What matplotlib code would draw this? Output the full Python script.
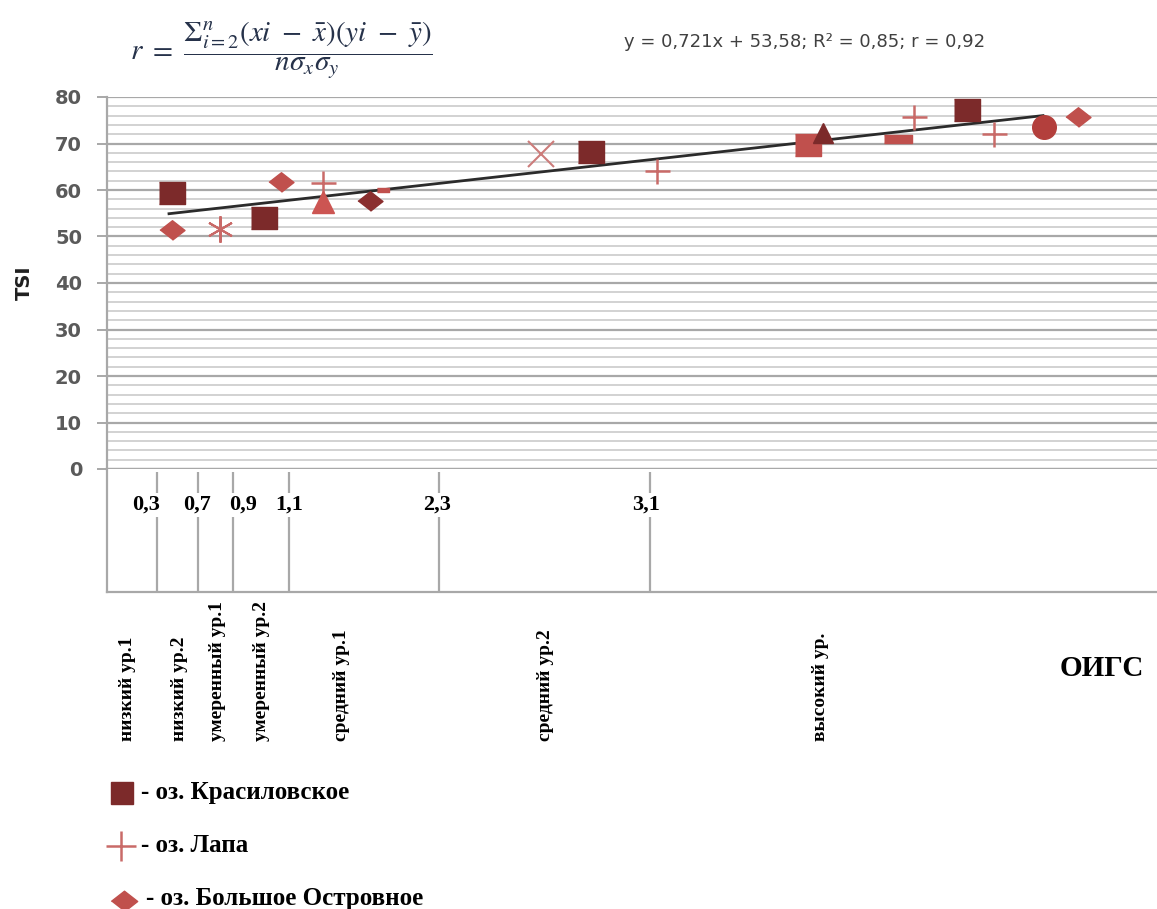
import numpy as np
import matplotlib
matplotlib.use("Agg")
import matplotlib.pyplot as plt
import matplotlib.transforms as mtransforms

# -------------------------------
# Data (x = position along the ОИГС scale of the chart, y = TSI)
# -------------------------------
kras_x = [6.5, 15.7, 48.4, 86.0]
kras_y = [59.4, 53.9, 68.2, 77.2]

lapa_x = [21.6, 55.0, 80.7, 88.7]
lapa_y = [61.6, 64.1, 75.7, 72.1]

ostr_x = [6.5, 17.4, 97.1]
ostr_y = [51.5, 61.8, 75.7]

red_sq_x = [70.1]
red_sq_y = [69.7]
dark_dia_x = [26.3]
dark_dia_y = [57.7]
red_tri_x = [21.6]
red_tri_y = [57.5]
dark_tri_x = [71.6]
dark_tri_y = [72.3]
star_x = [11.3]
star_y = [51.7]
cross_x = [43.4]
cross_y = [67.8]
circ_x = [93.7]
circ_y = [73.6]
flat_x = [79.1]
flat_y = [71.0]
small_x = [27.6]
small_y = [60.0]

trend_x = [6.2, 93.6]
trend_y = [54.9, 76.0]

# class boundaries of ОИГС
bound_x = [5.0, 9.1, 12.6, 18.2, 33.2, 54.3]
bound_lab = ["0,3", "0,7", "0,9", "1,1", "2,3", "3,1"]
bound_lab_x = [3.9, 9.0, 13.6, 18.2, 33.0, 53.9]

level_x = [2.1, 7.3, 11.1, 15.5, 23.5, 43.9, 71.3]
level_lab = ["низкий ур.1", "низкий ур.2", "умеренный ур.1", "умеренный ур.2",
             "средний ур.1", "средний ур.2", "высокий ур."]

legend_lab = ["- оз. Красиловское", "- оз. Лапа", "- оз. Большое Островное"]

# -------------------------------
# Styles
# -------------------------------
DARK = "#7c2a2a"
RED = "#c0504d"
LIGHT = "#c96a68"
GRID = "#a8a8a8"
SERIF = "Liberation Serif"

sq = [(-1, -0.8), (1, -0.8), (1, 0.8), (-1, 0.8)]
dia = [(-1, 0), (0, 0.78), (1, 0), (0, -0.78)]
flat = [(-1, -0.27), (1, -0.27), (1, 0.27), (-1, 0.27)]

W, H = 1157, 909
fig = plt.figure(figsize=(W / 100, H / 100), dpi=100)


def fx(px):
    return px / W


def fy(py):
    return 1 - py / H


# main scatter axes
ax = fig.add_axes([fx(107), fy(469), fx(1157) - fx(107), fy(97) - fy(469)])
ax.set_xlim(0, 105)
ax.set_ylim(0, 80)
ax.set_yticks(np.arange(0, 81, 10))
ax.set_yticks(np.arange(0, 81, 2), minor=True)
ax.set_xticks([])
ax.grid(True, which="major", axis="y", color=GRID, lw=1.6)
ax.grid(True, which="minor", axis="y", color="#cfcfcf", lw=1.3)
ax.set_axisbelow(True)
for s in ["top", "right"]:
    ax.spines[s].set_visible(False)
ax.spines["left"].set_color(GRID)
ax.spines["left"].set_linewidth(1.6)
ax.spines["bottom"].set_color(GRID)
ax.spines["bottom"].set_linewidth(1.6)
ax.tick_params(axis="y", which="major", direction="out", length=7, width=1.4,
               color=GRID, pad=11, labelsize=14, labelcolor="#5a5a5a")
ax.tick_params(axis="y", which="minor", length=0)
for t in ax.get_yticklabels():
    t.set_fontweight("bold")
    t.set_family("DejaVu Sans")

ax.plot(trend_x, trend_y, color="#2b2b2b", lw=2, zorder=2)

ax.plot(kras_x, kras_y, ls="none", marker=sq, ms=19, color=DARK, zorder=3)
ax.plot(red_sq_x, red_sq_y, ls="none", marker=sq, ms=19, color=RED, zorder=3)
ax.plot(lapa_x, lapa_y, ls="none", marker="+", ms=18, mew=1.8, color=LIGHT, zorder=3)
ax.plot(ostr_x, ostr_y, ls="none", marker=dia, ms=18, color=RED, zorder=3)
ax.plot(dark_dia_x, dark_dia_y, ls="none", marker=dia, ms=18, color="#8a2e2e", zorder=3)
ax.plot(red_tri_x, red_tri_y, ls="none", marker="^", ms=16, color="#cc5552", zorder=3)
ax.plot(dark_tri_x, dark_tri_y, ls="none", marker="^", ms=15, color=DARK, zorder=4)
ax.plot(star_x, star_y, ls="none", marker=(6, 2, 0), ms=19, mew=1.5, color=LIGHT, zorder=3)
ax.plot(cross_x, cross_y, ls="none", marker="x", ms=19, mew=1.5, color="#cc7c7a", zorder=3)
ax.plot(circ_x, circ_y, ls="none", marker="o", ms=17, color="#b33f3c", zorder=3)
ax.plot(flat_x, flat_y, ls="none", marker=flat, ms=20, color=RED, zorder=3)
ax.plot(small_x, small_y, ls="none", marker=flat, ms=9, color=RED, zorder=3)

ax.text(-0.079, 0.5, "TSI", transform=ax.transAxes, rotation=90, ha="center",
        va="center", fontsize=14, fontweight="bold", color="#1f1f1f",
        family="DejaVu Sans")

# lower box with ОИГС class boundaries
ax2 = fig.add_axes([fx(107), fy(592), fx(1157) - fx(107), fy(469) - fy(592)])
ax2.set_xlim(0, 105)
ax2.set_ylim(0, 1)
ax2.set_xticks([])
ax2.set_yticks([])
for s in ["top", "right"]:
    ax2.spines[s].set_visible(False)
for s in ["left", "bottom"]:
    ax2.spines[s].set_color(GRID)
    ax2.spines[s].set_linewidth(1.6)
ax2.vlines(bound_x, 0, 0.975, color=GRID, lw=1.6)
for xl, lab in zip(bound_lab_x, bound_lab):
    ax2.text(xl, 0.71, lab, ha="center", va="center", fontsize=16,
             fontweight="bold", family=SERIF, color="black",
             bbox=dict(facecolor="white", edgecolor="none", pad=1.5))

# rotated level labels below the box
tr = mtransforms.blended_transform_factory(ax2.transData, fig.transFigure)
for xl, lab in zip(level_x, level_lab):
    fig.text(xl, fy(741), lab, transform=tr, rotation=90, ha="center",
             va="bottom", fontsize=14, fontweight="bold", family=SERIF,
             color="black")

fig.text(fx(1102), fy(668), "ОИГС", ha="center", va="center", fontsize=21,
         fontweight="bold", family=SERIF, color="black")

# formula and regression text
plt.rcParams["mathtext.fontset"] = "stix"
fig.text(fx(130), fy(50),
         r"$r\ =\ \dfrac{\Sigma_{i=2}^{n}(xi\ -\ \bar{x})(yi\ -\ \bar{y})}{n\sigma_x\sigma_y}$",
         ha="left", va="center", fontsize=21, color="#26324a")
fig.text(fx(624), fy(42), "y = 0,721x + 53,58; R² = 0,85; r = 0,92",
         ha="left", va="center", fontsize=13, color="#404040",
         family="DejaVu Sans")

# legend drawn by hand
leg = fig.add_axes([0, 0, 1, 1], facecolor="none")
leg.set_xlim(0, W)
leg.set_ylim(H, 0)
leg.axis("off")
leg.plot([122], [793], ls="none", marker="s", ms=16, color=DARK)
leg.plot([121], [846], ls="none", marker="+", ms=22, mew=1.8, color=LIGHT)
leg.plot([124], [901], ls="none", marker=dia, ms=19, color=RED)
leg_y = [792, 845, 898]
leg_x = [141, 141, 146]
for xl, yl, lab in zip(leg_x, leg_y, legend_lab):
    leg.text(xl, yl, lab, ha="left", va="center", fontsize=18,
             fontweight="bold", family=SERIF, color="black")

fig.savefig("out.png", dpi=100, facecolor="white")
